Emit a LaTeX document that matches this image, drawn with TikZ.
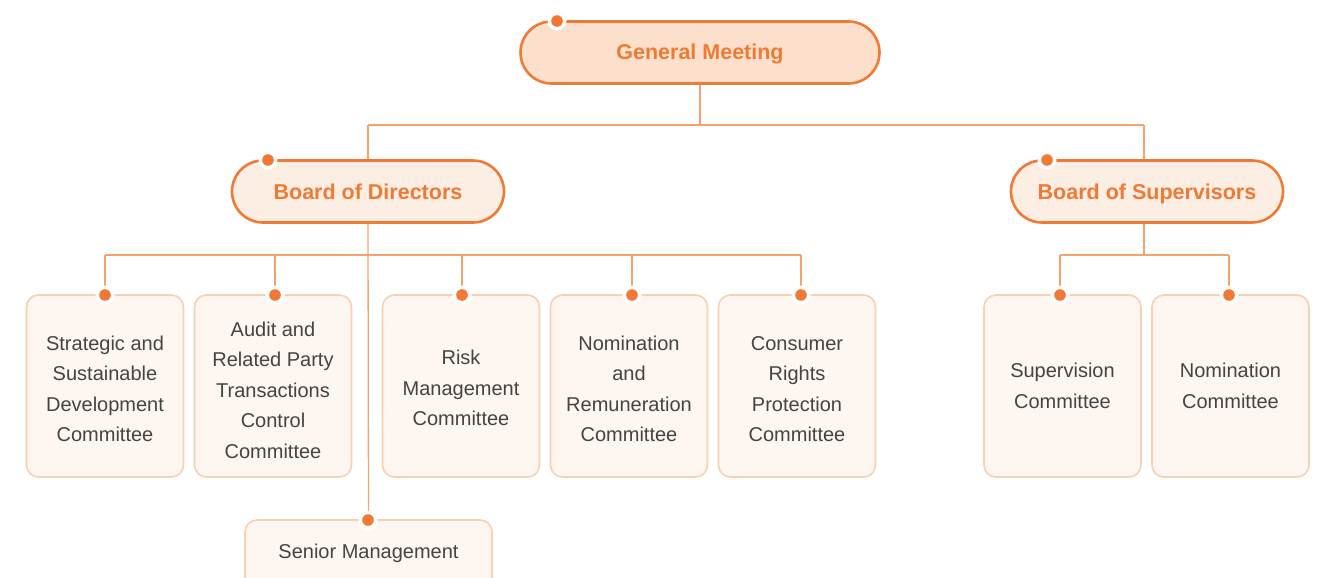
\documentclass[tikz,border=0pt]{standalone}
\usepackage{fontspec}
\setmainfont{Liberation Sans}
\definecolor{orng}{HTML}{F07A35}
\definecolor{gmfill}{HTML}{FCE0CB}
\definecolor{bdfill}{HTML}{FDEEE4}
\definecolor{cmborder}{HTML}{FAD0B3}
\definecolor{cmfill}{HTML}{FDF6F1}
\definecolor{linec}{HTML}{F4A36F}
\definecolor{txt}{HTML}{444444}
\tikzset{
  pill/.style={draw=orng, line width=2.6pt, rounded corners=31pt, minimum height=62pt, text=orng, font=\fontsize{21.5}{24}\selectfont\bfseries, inner sep=0pt, text height=19pt, text depth=4pt},
  cbox/.style={draw=cmborder, line width=1.6pt, fill=cmfill, rounded corners=12pt, minimum width=157pt, minimum height=182pt, inner sep=0pt},
  ctext/.style={text=txt, font=\fontsize{20}{30.5}\selectfont, align=center, inner sep=0pt},
  smbox/.style={draw=cmborder, line width=1.6pt, fill=cmfill, rounded corners=12pt, minimum width=247pt, minimum height=80pt, inner sep=0pt},
  conn/.style={draw=linec, line width=1.3pt},
}
\newcommand{\topdot}[1]{\fill[white] (#1) circle (9.5pt); \fill[orng] (#1) circle (5.8pt);}
\begin{document}
\begin{tikzpicture}[x=1pt,y=-1pt]
\useasboundingbox (0,0) rectangle (1326,578);
\clip (0,0) rectangle (1326,578);
% junction coordinates
\coordinate (j1) at (700,125);
\coordinate (j2) at (368,125);
\coordinate (j3) at (1144,125);
\coordinate (h1) at (105,255);
\coordinate (h2) at (801,255);
\coordinate (s1) at (1060,255);
\coordinate (s2) at (1229,255);
\coordinate (sbb) at (1144,255);

% pills
\node[pill, fill=gmfill, minimum width=359pt] (gm) at (700,52.5) {General Meeting};
\node[pill, fill=bdfill, minimum width=272pt] (bod) at (368,191.5) {Board of Directors};
\node[pill, fill=bdfill, minimum width=272pt] (bos) at (1147,191.5) {Board of Supervisors};

% committee boxes
\node[cbox] (c1) at (105,386) {};
\node[cbox] (c2) at (273,386) {};
\node[cbox] (c3) at (461,386) {};
\node[cbox] (c4) at (629,386) {};
\node[cbox] (c5) at (797,386) {};
\node[cbox] (c6) at (1062.5,386) {};
\node[cbox] (c7) at (1230.5,386) {};
\node[smbox] (sm) at (368.5,560) {};

\node[ctext] (t1) at ([yshift=-3pt]c1.center) {Strategic and\\Sustainable\\Development\\Committee};
\node[ctext] (t2) at ([yshift=-4pt]c2.center) {Audit and\\Related Party\\Transactions\\Control\\Committee};
\node[ctext] (t3) at ([yshift=-2pt]c3.center) {Risk\\Management\\Committee};
\node[ctext] (t4) at ([yshift=-3pt]c4.center) {Nomination\\and\\Remuneration\\Committee};
\node[ctext] (t5) at ([yshift=-3pt]c5.center) {Consumer\\Rights\\Protection\\Committee};
\node[ctext] (t6) at ([yshift=0pt]c6.center) {Supervision\\Committee};
\node[ctext] (t7) at ([yshift=0pt]c7.center) {Nomination\\Committee};
\node[ctext] (smt) at (368.5,553.5) {Senior Management};

% lines
\draw[conn] (gm.south) -- (j1);
\draw[conn] (j2) -- (j3);
\draw[conn] (j2) -- (bod.north);
\draw[conn] (j3) -- (j3 |- bos.north);
\draw[conn] (bod.south) -- (sm.north);
\draw[conn] (h1) -- (h2);
\draw[conn] (h1) -- (c1.north);
\draw[conn] (275,255) -- (275,295);
\draw[conn] (462,255) -- (462,295);
\draw[conn] (632,255) -- (632,295);
\draw[conn] (h2) -- (801,295);
\draw[conn] (bos.south -| sbb) -- (sbb);
\draw[conn] (s1) -- (s2);
\draw[conn] (s1) -- (1060,295);
\draw[conn] (s2) -- (1229,295);

% dots
\topdot{557,21}
\topdot{268,160}
\topdot{1047,160}
\topdot{105,295}
\topdot{275,295}
\topdot{462,295}
\topdot{632,295}
\topdot{801,295}
\topdot{1060,295}
\topdot{1229,295}
\topdot{368,520}
\end{tikzpicture}
\end{document}
